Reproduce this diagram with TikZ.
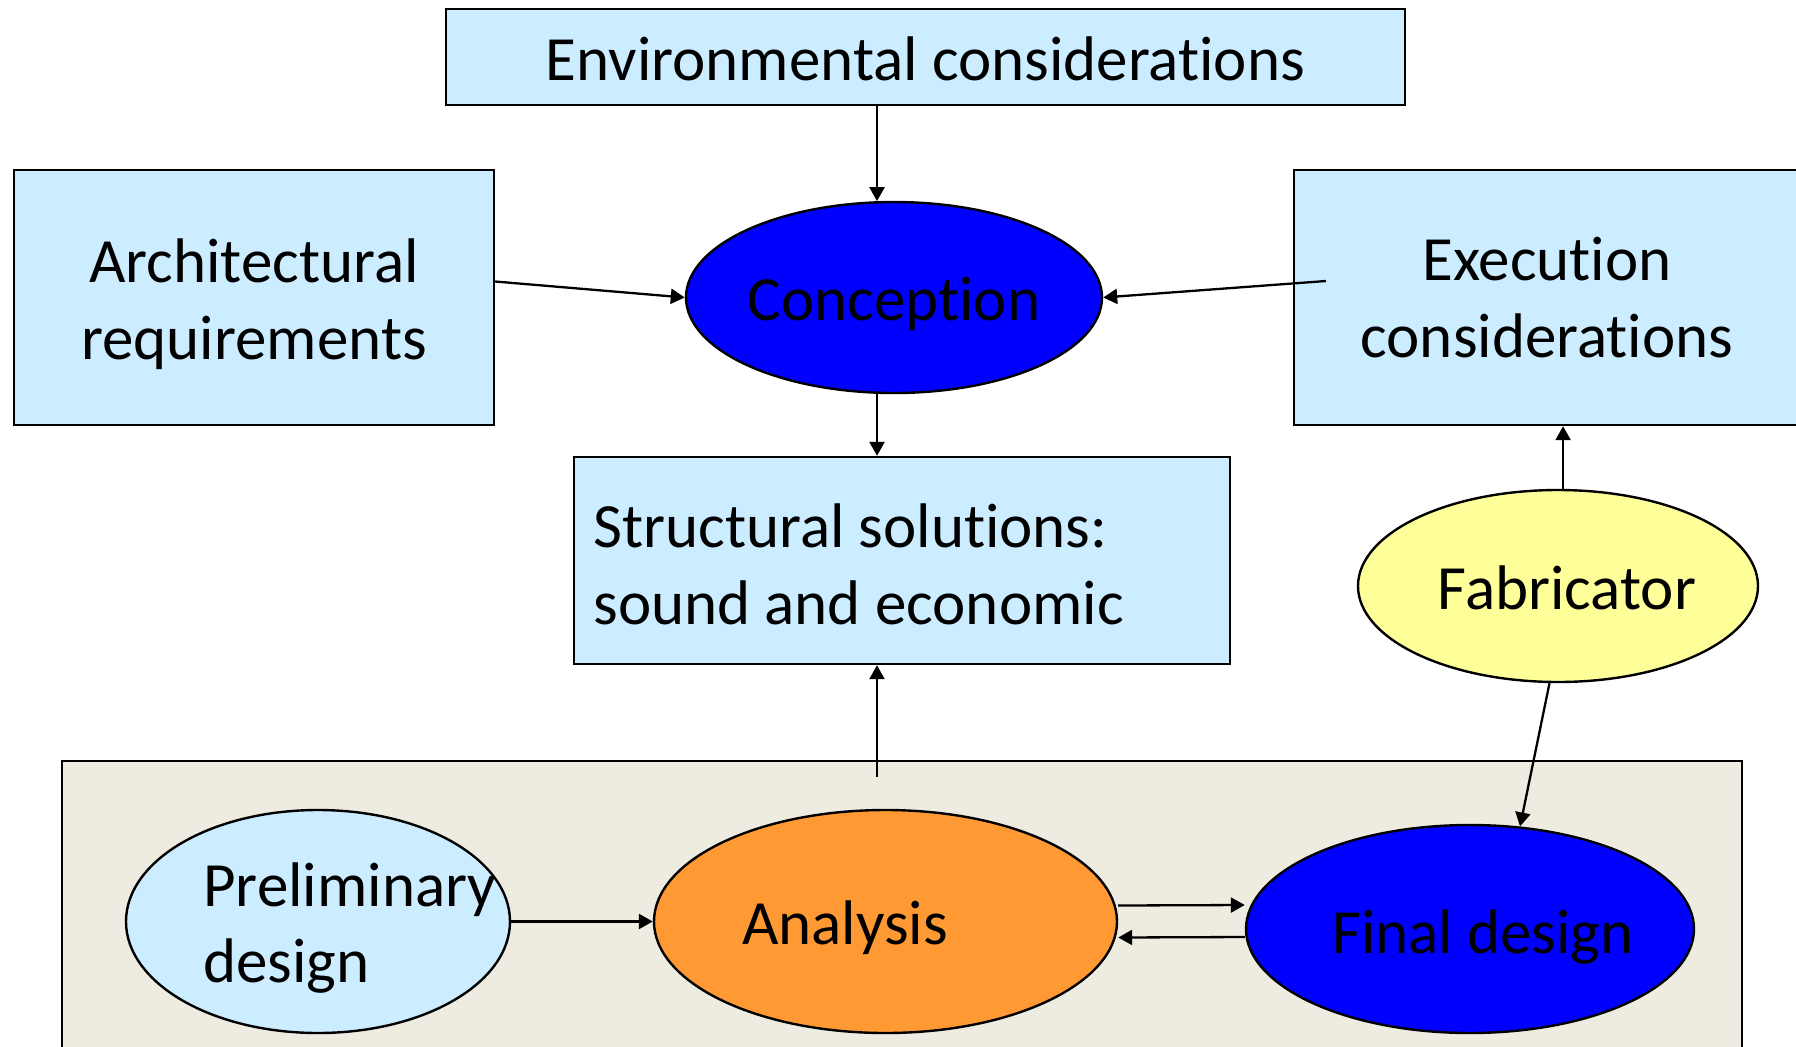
\documentclass[tikz,border=0pt]{standalone}
\usepackage{fontspec}
\setmainfont[Ligatures={NoCommon,NoRequired,NoContextual},Contextuals=NoAlternate]{Carlito}
\usetikzlibrary{shapes.geometric,arrows.meta,calc}
\definecolor{paleblue}{RGB}{204,236,255}
\definecolor{deepblue}{RGB}{0,0,255}
\definecolor{orangefill}{RGB}{255,153,51}
\definecolor{paleyellow}{RGB}{255,255,153}
\definecolor{panelgrey}{RGB}{238,236,225}
% keep "t" and "i" as separate glyphs
\newcommand\ti{t\kern0pt i}
\begin{document}
\begin{tikzpicture}[x=0.5pt,y=-0.5pt,
  every node/.style={font=\fontsize{31.5}{38.4}\selectfont},
  box/.style={draw=black,line width=1.2pt,fill=paleblue,rectangle,inner sep=0pt},
  oval/.style={draw=black,line width=1.2pt,ellipse,inner sep=0pt},
  txt/.style={inner sep=0pt,align=center},
  ltxt/.style={inner sep=0pt,align=left,anchor=west},
  arr/.style={draw=black,line width=1.15pt,-{Triangle[length=7pt,width=7.5pt]}}]
\useasboundingbox (0,0) rectangle (1796,1046);
\fill[white] (0,0) rectangle (1796,1046);

% lower panel holding the design loop (runs past the bottom edge)
\node[draw=black,line width=1.2pt,fill=panelgrey,rectangle,inner sep=0pt,
      minimum width=840pt,minimum height=152.5pt] (panel) at (902,913.5) {};

% upper boxes
\node[box,minimum width=479.5pt,minimum height=48pt] (env) at (925.5,57) {};
\node[txt] (envT) at (925.5,59) {Environmental considera\ti ons};
\node[box,minimum width=240pt,minimum height=127.5pt] (arch) at (254,297.5) {};
\node[txt] (archT) at (254,304.5) {Architectural\\requirements};
\node[box,minimum width=253pt,minimum height=127.5pt] (exec) at (1547,297.5) {};
\node[txt] (execT) at (1547,297.5) {Execu\ti on\\considera\ti ons};
\node[box,minimum width=328pt,minimum height=103.5pt] (struct) at (902,560.5) {};
\node[ltxt] (structT) at (593,564) {Structural solu\ti ons:\\sound and economic};

% ellipses
\node[oval,fill=deepblue,minimum width=208pt,minimum height=95.5pt] (conc) at (894,297.5) {};
\node[txt] (concT) at (894,303.5) {Concep\ti on};
\node[oval,fill=paleyellow,minimum width=200pt,minimum height=96pt] (fab) at (1558,586) {};
\node[txt] (fabT) at (1567,588) {Fabricator};
\node[oval,fill=paleblue,minimum width=192pt,minimum height=111.5pt] (prel) at (318,921.5) {};
\node[ltxt] (prelT) at (203,928) {Preliminary\\design};
\node[oval,fill=orangefill,minimum width=231.5pt,minimum height=111.5pt] (ana) at (885.5,921.5) {};
\node[txt] (anaT) at (845,928) {Analysis};
\node[oval,fill=deepblue,minimum width=224pt,minimum height=104pt] (fin) at (1470,929) {};
\node[txt] (finT) at (1483,937) {Final design};

% free ends of connectors
\coordinate (execOut) at (1326,281);
\coordinate (panelOut) at (877,777);

% connectors
\draw[arr] (env.south -| conc.100) -- (conc.100);
\draw[arr] ($(arch.east)+(0,-16)$) -- (conc.west);
\draw[arr] (execOut) -- (conc.east);
\draw[arr] (conc.260) -- (conc.260 |- struct.north);
\draw[arr] (panelOut) -- (panelOut |- struct.south);
\draw[arr] (fab.87) -- (fab.87 |- exec.south);
\draw[arr] (fab.265) -- (fin.64);
\draw[arr] (prel.east) -- (ana.west);
\draw[arr] ($(ana.east)+(0,-16)$) -- ($(fin.west)+(0,-24)$);
\draw[arr] ($(fin.west)+(0,8)$) -- ($(ana.east)+(0,16)$);
\end{tikzpicture}
\end{document}
